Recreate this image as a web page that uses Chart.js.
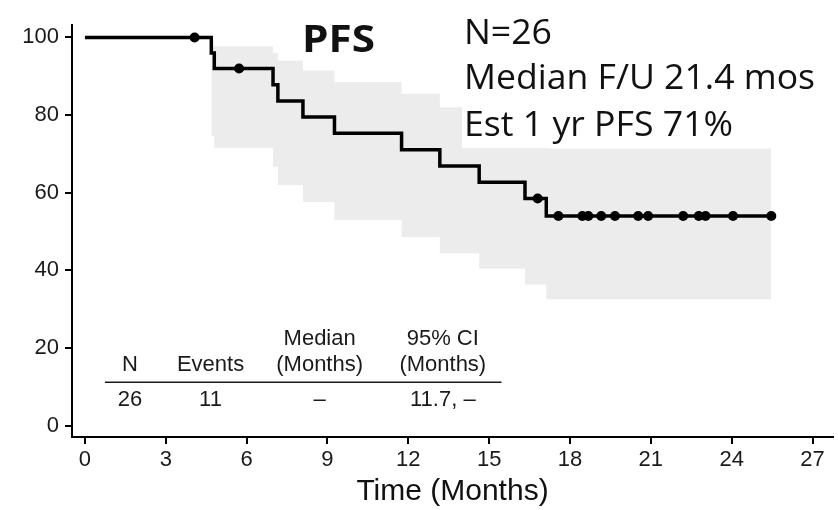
<!DOCTYPE html>
<html>
<head>
<meta charset="utf-8">
<script src="https://cdn.jsdelivr.net/npm/chart.js@4.4.1/dist/chart.umd.min.js"></script>
<style>
html, body { margin: 0; padding: 0; background: #fff; }
#wrap { width: 838px; height: 510px; }
</style>
</head>
<body>
<div id="wrap"><canvas id="pfsChart" width="838" height="510"></canvas></div>
<script>
// Kaplan-Meier PFS curve (months, % progression free)
const eventTimes = [0, 4.69, 4.8, 6.98, 7.16, 8.09, 9.26, 11.75, 13.17, 14.63, 16.33, 17.12, 25.47];
const survival   = [100, 96, 92, 87.8, 83.6, 79.5, 75.3, 71.1, 66.9, 62.7, 58.5, 54.0, 54.0];

// censored patients
const censorTimes = [4.07, 5.72, 16.8, 17.57, 18.46, 18.68, 19.16, 19.67, 20.53, 20.9, 22.2, 22.78, 23.03, 24.05, 25.47];
const censorSurv  = [100, 92, 58.5, 54, 54, 54, 54, 54, 54, 54, 54, 54, 54, 54, 54];

// 95% confidence band
const bandTimes = [4.69, 4.8, 6.98, 7.16, 8.09, 9.26, 11.75, 13.17, 14.63, 16.33, 17.12, 25.47];
const ciUpper   = [97.7, 97.7, 96, 94, 91.5, 88.5, 85.5, 82, 78.5, 75, 71.4, 71.4];
const ciLower   = [74.6, 71.6, 66.7, 62.0, 57.6, 53.0, 48.6, 44.4, 40.4, 36.4, 32.6, 32.6];

const xTicks = [0, 3, 6, 9, 12, 15, 18, 21, 24, 27];
const yTicks = [0, 20, 40, 60, 80, 100];

// summary table inside the plot
const tableHead1 = ['', '', 'Median', '95% CI'];
const tableHead2 = ['N', 'Events', '(Months)', '(Months)'];
const tableRow   = ['26', '11', '\u2013', '11.7, \u2013'];

const infoLines = ['N=26', 'Median F/U 21.4 mos', 'Est 1 yr PFS 71%'];
const plotTitle = 'PFS';

function toXY(xs, ys) {
	return xs.map((x, i) => ({ x: x, y: ys[i] }));
}

// draw text squeezed/stretched to a given width
function fitText(ctx, txt, x, y, w) {
	const m = ctx.measureText(txt).width;
	ctx.save();
	ctx.translate(x, y);
	ctx.scale(w / m, 1);
	ctx.fillText(txt, 0, 0);
	ctx.restore();
}

const overlay = {
	id: 'overlay',
	afterDraw(chart) {
		const ctx = chart.ctx;
		const xs = chart.scales.x, ys = chart.scales.y;

		// info box (white background covers the band)
		ctx.save();
		ctx.fillStyle = '#fff';
		ctx.fillRect(462, 8, 360, 140);
		ctx.fillStyle = '#111';
		ctx.textAlign = 'left';
		ctx.textBaseline = 'alphabetic';
		ctx.font = '34px "Open Sans"';
		fitText(ctx, infoLines[0], 464, 44, 88);
		fitText(ctx, infoLines[1], 464, 89, 351);
		fitText(ctx, infoLines[2], 464, 136, 269);

		ctx.font = 'bold 37px "Open Sans"';
		fitText(ctx, plotTitle, 302, 52, 73);
		ctx.restore();

		// table
		const cols = [1.67, 4.66, 8.71, 13.28].map(v => xs.getPixelForValue(v));
		ctx.save();
		ctx.fillStyle = '#1a1a1a';
		ctx.textAlign = 'center';
		ctx.textBaseline = 'alphabetic';
		ctx.font = '22px "Liberation Sans"';
		tableHead1.forEach((t, i) => ctx.fillText(t, cols[i], ys.getPixelForValue(20.8)));
		tableHead2.forEach((t, i) => ctx.fillText(t, cols[i], ys.getPixelForValue(14.2)));
		tableRow.forEach((t, i) => ctx.fillText(t, cols[i], ys.getPixelForValue(5.1)));
		ctx.strokeStyle = '#1a1a1a';
		ctx.lineWidth = 1.6;
		ctx.beginPath();
		const ly = ys.getPixelForValue(11.2);
		ctx.moveTo(xs.getPixelForValue(0.74), ly);
		ctx.lineTo(xs.getPixelForValue(15.46), ly);
		ctx.stroke();
		ctx.restore();
	}
};

const ctx = document.getElementById('pfsChart').getContext('2d');

const chart = new Chart(ctx, {
	type: 'line',
	data: {
		datasets: [
			{
				label: 'lower',
				data: toXY(bandTimes, ciLower),
				stepped: 'before',
				borderWidth: 0,
				borderColor: 'rgba(0,0,0,0)',
				pointRadius: 0,
				fill: false,
				order: 4
			},
			{
				label: 'upper',
				data: toXY(bandTimes, ciUpper),
				stepped: 'before',
				borderWidth: 0,
				borderColor: 'rgba(0,0,0,0)',
				backgroundColor: '#ececec',
				pointRadius: 0,
				fill: '-1',
				order: 3
			},
			{
				label: 'PFS',
				data: toXY(eventTimes, survival),
				stepped: 'before',
				borderColor: '#000',
				borderWidth: 3.5,
				pointRadius: 0,
				fill: false,
				order: 1
			},
			{
				label: 'censored',
				data: toXY(censorTimes, censorSurv),
				showLine: false,
				pointRadius: 5,
				pointBackgroundColor: '#000',
				pointBorderColor: '#000',
				pointBorderWidth: 0,
				order: 0
			}
		]
	},
	options: {
		responsive: false,
		animation: false,
		layout: {
			padding: { top: 25, right: 3, left: 0, bottom: 0 }
		},
		plugins: {
			legend: { display: false },
			tooltip: { enabled: false }
		},
		scales: {
			x: {
				type: 'linear',
				min: -0.48,
				max: 27.76,
				afterBuildTicks: s => { s.ticks = xTicks.map(v => ({ value: v })); },
				afterFit: s => { s.height = 73; },
				border: { color: '#000', width: 2 },
				grid: { drawOnChartArea: false, drawTicks: true, tickLength: 7, color: '#000', lineWidth: 2 },
				ticks: {
					color: '#1a1a1a',
					padding: 3,
					maxRotation: 0,
					font: { family: 'Liberation Sans', size: 22 }
				},
				title: {
					display: true,
					text: 'Time (Months)',
					color: '#111',
					font: { family: 'Liberation Sans', size: 30 },
					padding: { top: 0, bottom: 0 }
				}
			},
			y: {
				type: 'linear',
				min: -2.9,
				max: 103.2,
				afterBuildTicks: s => { s.ticks = yTicks.map(v => ({ value: v })); },
				afterFit: s => { s.width = 72; },
				border: { color: '#000', width: 2 },
				grid: { drawOnChartArea: false, drawTicks: true, tickLength: 7, color: '#000', lineWidth: 2 },
				ticks: {
					color: '#1a1a1a',
					padding: 6,
					font: { family: 'Liberation Sans', size: 22 }
				}
			}
		}
	},
	plugins: [overlay]
});
</script>
</body>
</html>
